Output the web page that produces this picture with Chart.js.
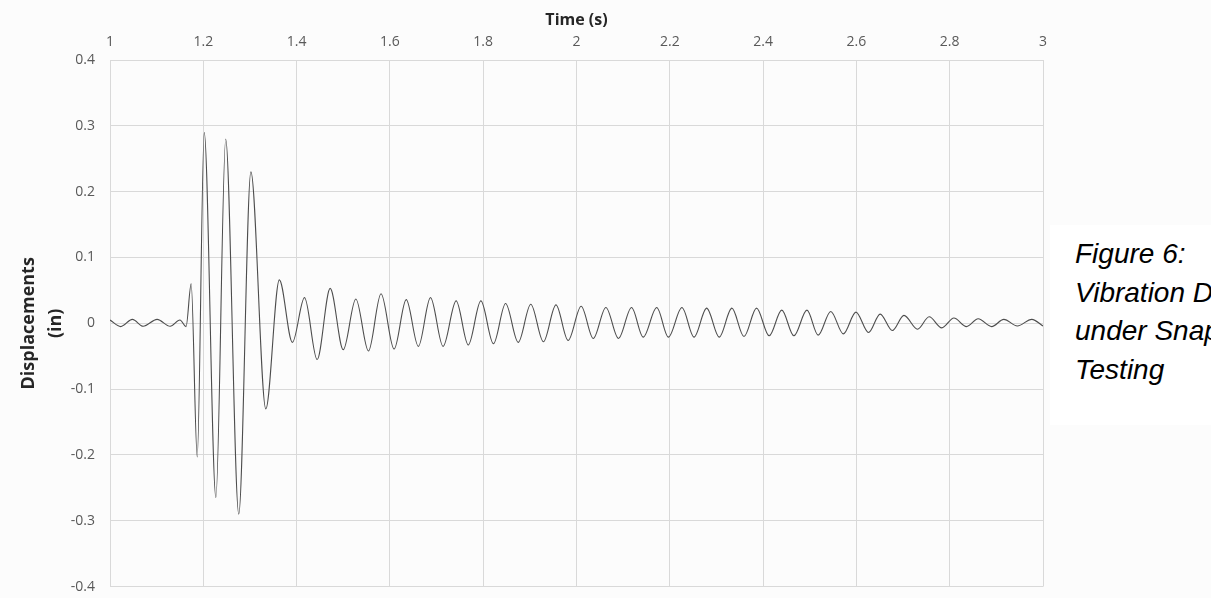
<!DOCTYPE html>
<html>
<head>
<meta charset="utf-8">
<script src="https://cdn.jsdelivr.net/npm/chart.js@4.4.1/dist/chart.umd.min.js"></script>
<style>
  html, body { margin: 0; padding: 0; overflow: hidden; background: #fcfcfc; }
  #wrap { position: relative; width: 1211px; height: 598px; overflow: hidden; }
  #chart { position: absolute; left: 0; top: 0; }
  #captionBox { position: absolute; left: 1050px; top: 225px; width: 161px; height: 200px; background: #fff; }
  #caption {
    position: absolute; left: 1075px; top: 235px;
    font-family: "Liberation Sans", Arial, sans-serif; font-style: italic;
    font-size: 28px; line-height: 38.5px; color: #000; white-space: nowrap;
  }
</style>
</head>
<body>
<div id="wrap">
  <canvas id="chart" width="1211" height="610"></canvas>
  <div id="captionBox"></div>
  <div id="caption">Figure 6:<br>Vibration Displacements<br>under Snapback<br>Testing</div>
</div>
<script>
var xTitle = "Time (s)";
var yTitle = ["Displacements", "(in)"];
var xTickLabels = ["1", "1.2", "1.4", "1.6", "1.8", "2", "2.2", "2.4", "2.6", "2.8", "3"];
var yTickLabels = ["-0.4", "-0.3", "-0.2", "-0.1", "0", "0.1", "0.2", "0.3", "0.4"];

// peaks and troughs
var timeValues = [
  1.000, 1.023, 1.048, 1.071, 1.101, 1.129, 1.150, 1.163,
  1.174, 1.187, 1.202, 1.227, 1.248, 1.276, 1.302, 1.334,
  1.363, 1.391, 1.417, 1.444, 1.472, 1.500, 1.527, 1.554,
  1.581, 1.609, 1.635, 1.661, 1.687, 1.714, 1.742, 1.768,
  1.795, 1.822, 1.848, 1.875, 1.902, 1.929, 1.956, 1.982,
  2.010, 2.036, 2.063, 2.090, 2.118, 2.143, 2.172, 2.197,
  2.226, 2.252, 2.279, 2.306, 2.333, 2.359, 2.386, 2.413,
  2.440, 2.466, 2.494, 2.518, 2.545, 2.572, 2.599, 2.626,
  2.651, 2.677, 2.702, 2.731, 2.756, 2.783, 2.809, 2.836,
  2.861, 2.890, 2.916, 2.945, 2.976, 3.000
];
var dispValues = [
  0.005, -0.005, 0.006, -0.0045, 0.006, -0.0045, 0.005, -0.005,
  0.060, -0.203, 0.290, -0.265, 0.280, -0.290, 0.230, -0.130,
  0.066, -0.029, 0.039, -0.055, 0.053, -0.040, 0.037, -0.042,
  0.045, -0.039, 0.036, -0.035, 0.039, -0.035, 0.034, -0.033,
  0.034, -0.031, 0.030, -0.029, 0.029, -0.028, 0.028, -0.026,
  0.026, -0.023, 0.024, -0.023, 0.024, -0.021, 0.024, -0.021,
  0.024, -0.021, 0.023, -0.021, 0.023, -0.020, 0.023, -0.019,
  0.020, -0.019, 0.020, -0.018, 0.018, -0.016, 0.017, -0.014,
  0.014, -0.011, 0.012, -0.009, 0.010, -0.007, 0.008, -0.005,
  0.007, -0.005, 0.006, -0.004, 0.006, -0.004
];

var points = timeValues.map(function (t, i) { return { x: t, y: dispValues[i] }; });

var gridColor = "#d9d9d9";
var tickFont = { family: "'Open Sans', sans-serif", size: 14 };

var config = {
  type: "line",
  data: {
    datasets: [{
      data: points,
      borderColor: "#4d4d4d",
      borderWidth: 1.1,
      pointRadius: 0,
      cubicInterpolationMode: "monotone",
      fill: false
    }]
  },
  options: {
    responsive: false,
    animation: false,
    devicePixelRatio: 1,
    layout: { padding: { left: 0, right: 168, top: 0, bottom: 17 } },
    plugins: { legend: { display: false }, tooltip: { enabled: false } },
    scales: {
      x: {
        type: "linear",
        position: "top",
        min: 1,
        max: 3,
        afterBuildTicks: function (scale) {
          scale.ticks = xTickLabels.map(function (l) { return { value: parseFloat(l) }; });
        },
        ticks: {
          padding: 10,
          color: "#595959",
          font: tickFont,
          maxRotation: 0,
          callback: function (v, i) { return xTickLabels[i]; }
        },
        grid: { color: gridColor, drawTicks: false, lineWidth: 1 },
        border: { color: gridColor },
        title: {
          display: true,
          text: xTitle,
          color: "#262626",
          font: { family: "'Open Sans', sans-serif", size: 16, weight: "bold", lineHeight: 1.2 },
          padding: { top: 11, bottom: 0 }
        },
        afterFit: function (scale) { scale.height = 60; }
      },
      y: {
        type: "linear",
        min: -0.4,
        max: 0.4,
        afterBuildTicks: function (scale) {
          scale.ticks = yTickLabels.map(function (l) { return { value: parseFloat(l) }; });
        },
        ticks: {
          padding: 15,
          color: "#595959",
          font: tickFont,
          callback: function (v, i) { return yTickLabels[i]; }
        },
        grid: { color: gridColor, drawTicks: false, lineWidth: 1 },
        border: { color: gridColor },
        title: {
          display: true,
          text: yTitle,
          color: "#262626",
          font: { family: "'Open Sans', sans-serif", size: 18, weight: "bold", lineHeight: 1.5 },
          padding: { top: 15, bottom: 0 }
        },
        afterFit: function (scale) { scale.width = 110; }
      }
    }
  }
};

var chart = new Chart(document.getElementById("chart"), config);
</script>
</body>
</html>
